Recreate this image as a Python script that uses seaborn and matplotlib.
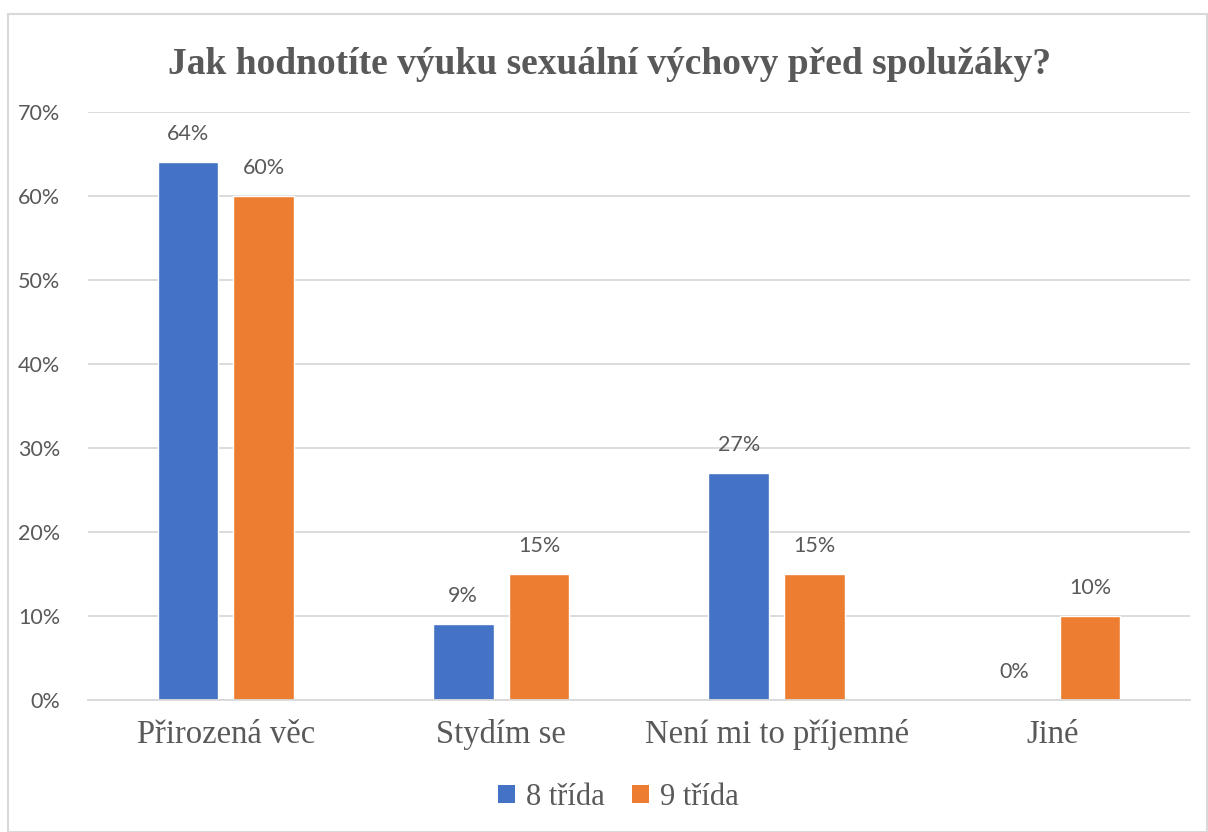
import matplotlib
matplotlib.use("Agg")
import matplotlib.pyplot as plt
from matplotlib.patches import Rectangle, Patch
import seaborn as sns
import pandas as pd

# data
categories = ["Přirozená věc", "Stydím se", "Není mi to příjemné", "Jiné"]
series_names = ["8 třída", "9 třída"]
vals_8 = [0.64, 0.09, 0.27, 0.00]
vals_9 = [0.60, 0.15, 0.15, 0.10]
y_ticks = [0, 0.1, 0.2, 0.3, 0.4, 0.5, 0.6, 0.7]

colors = ["#4472C4", "#ED7D31"]
text_gray = "#595959"
grid_gray = "#D9D9D9"

df = pd.DataFrame({
    "kategorie": categories * 2,
    "trida": [series_names[0]] * len(categories) + [series_names[1]] * len(categories),
    "podil": vals_8 + vals_9,
})

sns.set_theme(style="white")
plt.rcParams["font.family"] = ["Lato", "DejaVu Sans"]

fig = plt.figure(figsize=(12.08, 8.32), dpi=100)
ax = fig.add_axes([0.0728, 0.1587, 0.9122, 0.7067])

sns.barplot(data=df, x="kategorie", y="podil", hue="trida", order=categories,
            hue_order=series_names, palette=colors, width=0.55, gap=0.2,
            saturation=1, ax=ax, legend=False)

for cont in ax.containers:
    ax.bar_label(cont, labels=[f"{v:.0%}" for v in cont.datavalues],
                 padding=13, fontsize=15.5, color=text_gray)

ax.set_ylim(0, 0.7)
ax.set_xlim(-0.5, len(categories) - 0.5)
ax.set_yticks(y_ticks)
ax.set_yticklabels([f"{t:.0%}" for t in y_ticks], fontsize=15.5, color=text_gray)
ax.tick_params(axis="y", length=0, pad=20)
ax.tick_params(axis="x", length=0, pad=14)
for lab in ax.get_xticklabels():
    lab.set_fontfamily("Liberation Serif")
    lab.set_fontsize(23.5)
    lab.set_color(text_gray)
ax.set_xlabel("")
ax.set_ylabel("")
ax.yaxis.grid(True, color=grid_gray, linewidth=1.3)
ax.set_axisbelow(True)
for side in ["top", "right", "left"]:
    ax.spines[side].set_visible(False)
ax.spines["bottom"].set_color(grid_gray)
ax.spines["bottom"].set_linewidth(1.3)

fig.text(0.505, 0.922, "Jak hodnotíte výuku sexuální výchovy před spolužáky?",
         ha="center", va="center", fontsize=27, fontweight="bold",
         family="Liberation Serif", color=text_gray)

handles = [Patch(facecolor=c, edgecolor="none") for c in colors]
leg = fig.legend(handles, series_names, loc="center", bbox_to_anchor=(0.512, 0.042),
                 ncol=2, frameon=False, handlelength=0.55, handleheight=0.55,
                 handletextpad=0.35, columnspacing=0.9,
                 prop={"family": "Liberation Serif", "size": 22})
for t in leg.get_texts():
    t.set_color(text_gray)

# light frame around the chart area
fig.patches.append(Rectangle((8 / 1208, 0), 1 - 9 / 1208, 1 - 14 / 832,
                             transform=fig.transFigure, fill=False,
                             edgecolor=grid_gray, linewidth=1.5))

fig.savefig("out.png", dpi=100)
